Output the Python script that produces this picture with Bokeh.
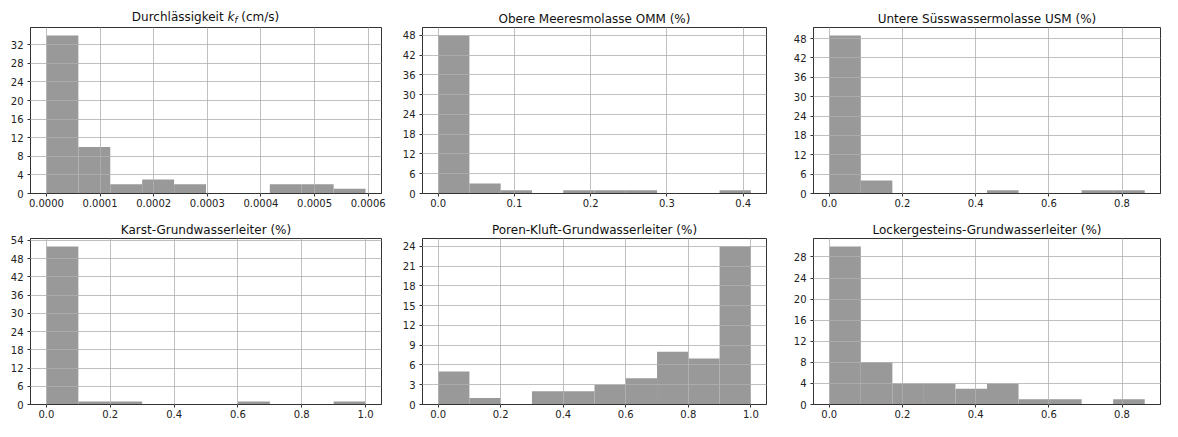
import numpy as np
from bokeh.plotting import figure
from bokeh.layouts import column, row
from bokeh.models import FixedTicker, NumeralTickFormatter, Range1d, Div
from bokeh.embed import file_html
from bokeh.resources import INLINE

# ---- data (histogram counts, 10 equal bins each) ----
kf_range = [0.0, 0.000595]
kf_counts = [34, 10, 2, 3, 2, 0, 0, 2, 2, 1]

omm_range = [0.0, 0.41]
omm_counts = [48, 3, 1, 0, 1, 1, 1, 0, 0, 1]

usm_range = [0.0, 0.862]
usm_counts = [49, 4, 0, 0, 0, 1, 0, 0, 1, 1]

karst_range = [0.0, 1.0]
karst_counts = [52, 1, 1, 0, 0, 0, 1, 0, 0, 1]

poren_range = [0.0, 1.0]
poren_counts = [5, 1, 0, 2, 2, 3, 4, 8, 7, 24]

locker_range = [0.0, 0.862]
locker_counts = [30, 8, 4, 4, 3, 4, 1, 1, 0, 1]

titles = [
    "Durchlässigkeit kf (cm/s)",
    "Obere Meeresmolasse OMM (%)",
    "Untere Süsswassermolasse USM (%)",
    "Karst-Grundwasserleiter (%)",
    "Poren-Kluft-Grundwasserleiter (%)",
    "Lockergesteins-Grundwasserleiter (%)",
]

kf_xticks = [0.0, 0.0001, 0.0002, 0.0003, 0.0004, 0.0005, 0.0006]
omm_xticks = [0.0, 0.1, 0.2, 0.3, 0.4]
usm_xticks = [0.0, 0.2, 0.4, 0.6, 0.8]
karst_xticks = [0.0, 0.2, 0.4, 0.6, 0.8, 1.0]
poren_xticks = [0.0, 0.2, 0.4, 0.6, 0.8, 1.0]
locker_xticks = [0.0, 0.2, 0.4, 0.6, 0.8]

kf_yticks = [0, 4, 8, 12, 16, 20, 24, 28, 32]
omm_yticks = [0, 6, 12, 18, 24, 30, 36, 42, 48]
usm_yticks = [0, 6, 12, 18, 24, 30, 36, 42, 48]
karst_yticks = [0, 6, 12, 18, 24, 30, 36, 42, 48, 54]
poren_yticks = [0, 3, 6, 9, 12, 15, 18, 21, 24]
locker_yticks = [0, 4, 8, 12, 16, 20, 24, 28]

panels = [
    (kf_range, kf_counts, kf_xticks, kf_yticks, "0.0000"),
    (omm_range, omm_counts, omm_xticks, omm_yticks, "0.0"),
    (usm_range, usm_counts, usm_xticks, usm_yticks, "0.0"),
    (karst_range, karst_counts, karst_xticks, karst_yticks, "0.0"),
    (poren_range, poren_counts, poren_xticks, poren_yticks, "0.0"),
    (locker_range, locker_counts, locker_xticks, locker_yticks, "0.0"),
]

FONT = "DejaVu Sans"
FWS = [351, 344, 347]
FH = 166
LEFTS = [30, 27, 33]
RIGHTS = [14, 14, 2]
TOPS = [27, 27]
BOTTOMS = [18, 17]
DIV_H = 26


def make(i):
    rng, counts, xt, yt, fmt = panels[i]
    col = i % 3
    rowi = i // 3
    edges = np.linspace(rng[0], rng[1], len(counts) + 1)
    span = rng[1] - rng[0]
    ymax = max(counts) * 1.05
    top = TOPS[rowi] - DIV_H if i == 0 else TOPS[rowi]
    p = figure(frame_width=FWS[col], frame_height=FH, output_backend="svg",
               toolbar_location=None, title=None if i == 0 else titles[i],
               x_range=Range1d(rng[0] - 0.05 * span, rng[1] + 0.05 * span),
               y_range=Range1d(0, ymax),
               min_border_left=LEFTS[col], min_border_right=RIGHTS[col],
               min_border_top=top, min_border_bottom=BOTTOMS[rowi])
    p.quad(left=edges[:-1], right=edges[1:], bottom=0, top=counts,
           fill_color="#999999", line_color=None)
    p.xaxis.ticker = FixedTicker(ticks=xt)
    p.yaxis.ticker = FixedTicker(ticks=yt)
    p.xaxis.formatter = NumeralTickFormatter(format=fmt)
    for ax in (p.xaxis[0], p.yaxis[0]):
        ax.major_label_text_font = FONT
        ax.major_label_text_font_size = "10px"
        ax.major_label_text_color = "#222222"
        ax.major_tick_out = 3
        ax.major_tick_in = 0
        ax.minor_tick_line_color = None
        ax.axis_line_color = "#333333"
        ax.major_tick_line_color = "#333333"
    p.xaxis.major_label_standoff = 2
    p.yaxis.major_label_standoff = 4
    for g in p.grid:
        g.grid_line_color = "#b0b0b0"
        g.grid_line_width = 0.8
        g.level = "overlay"
    p.outline_line_color = "#333333"
    p.outline_line_width = 1
    p.outline_line_alpha = 1
    p.background_fill_color = "white"
    p.border_fill_color = "white"
    if i != 0:
        p.title.text_font = FONT
        p.title.text_font_size = "12px"
        p.title.text_font_style = "normal"
        p.title.text_color = "#111111"
        p.title.align = "center"
        p.title.standoff = 3
    return p


figs = [make(i) for i in range(6)]

# Title of the first panel with italic k and subscript f
fig1_w = LEFTS[0] + FWS[0] + RIGHTS[0]
title1 = Div(
    text=(
        f'<div style="width:{FWS[0]}px;margin-left:{LEFTS[0]}px;text-align:center;'
        f"font-family:'DejaVu Sans';font-size:12px;color:#111111;line-height:14px;"
        f'padding-top:10px;white-space:nowrap">Durchlässigkeit '
        f'<i>k<sub style="font-size:8.5px;line-height:0;vertical-align:-2px">f</sub></i>'
        f" (cm/s)</div>"
    ),
    width=fig1_w, height=DIV_H, margin=0,
)
first = column(title1, figs[0], spacing=0)

layout = column(row(first, figs[1], figs[2], spacing=0),
                row(*figs[3:], spacing=0), spacing=0)

open("out.html", "w").write(file_html(layout, INLINE))
